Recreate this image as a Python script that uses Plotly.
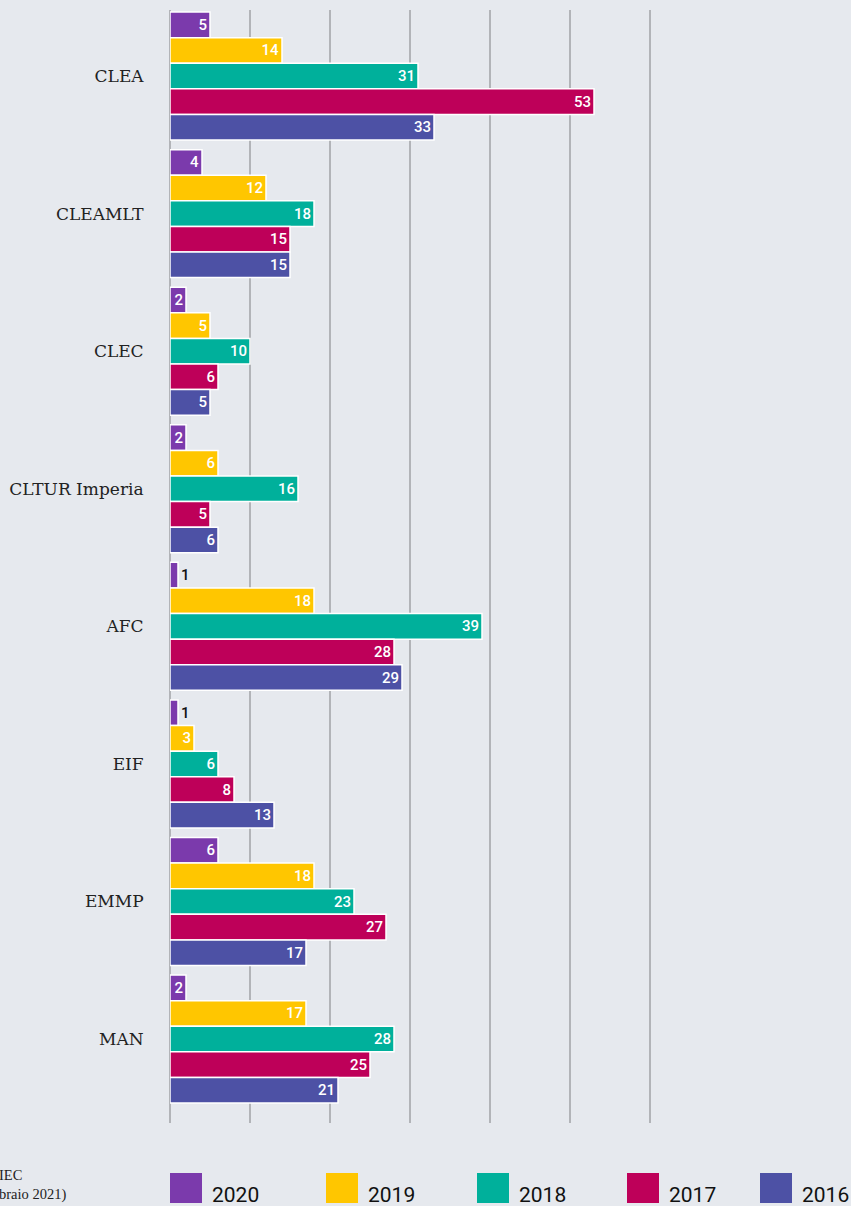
import plotly.graph_objects as go

categories = ["CLEA", "CLEAMLT", "CLEC", "CLTUR Imperia", "AFC", "EIF", "EMMP", "MAN"]
years = ["2020", "2019", "2018", "2017", "2016"]
v2020 = [5, 4, 2, 2, 1, 1, 6, 2]
v2019 = [14, 12, 5, 6, 18, 3, 18, 17]
v2018 = [31, 18, 10, 16, 39, 6, 23, 28]
v2017 = [53, 15, 6, 5, 28, 8, 27, 25]
v2016 = [33, 15, 5, 6, 29, 13, 17, 21]
series = [v2020, v2019, v2018, v2017, v2016]
colors = ["#7b3aac", "#ffc600", "#00b09b", "#be0059", "#4d51a5"]
source_lines = ["IEC", "braio 2021)"]

W, H = 851, 1206
ML, MR, MT, MB = 170, 193, 10, 83
pw, ph = W - ML - MR, H - MT - MB

def px(x):
    return (x - ML) / pw

def py(y):
    return (H - MB - y) / ph

fig = go.Figure()
for name, vals, col in zip(years, series, colors):
    pos = ["outside" if v < 2 else "inside" for v in vals]
    fig.add_trace(go.Bar(
        y=categories, x=vals, name=name, orientation="h",
        marker=dict(color=col, line=dict(color="white", width=1.5)),
        text=[str(v) for v in vals], textposition=pos,
        insidetextanchor="end",
        insidetextfont=dict(color="white", size=15, family="Roboto", weight=500),
        outsidetextfont=dict(color="#111", size=15, family="Roboto", weight=500),
        constraintext="none", cliponaxis=False, showlegend=False,
    ))

shapes = []
annotations = []
leg_x = [170, 326, 477, 627, 760]
for lx, name, col in zip(leg_x, years, colors):
    shapes.append(dict(type="rect", xref="paper", yref="paper",
                       x0=px(lx), x1=px(lx + 32), y0=py(1203), y1=py(1173),
                       fillcolor=col, line=dict(width=0)))
    annotations.append(dict(xref="paper", yref="paper", x=px(lx + 40), y=py(1195),
                            text=name, showarrow=False, xanchor="left", yanchor="middle",
                            font=dict(size=21, color="#111", family="Liberation Sans Narrow, Roboto")))
annotations.append(dict(xref="paper", yref="paper", x=px(-3), y=py(1185),
                        text="<br>".join(source_lines), showarrow=False, xanchor="left",
                        yanchor="middle", align="left",
                        font=dict(size=14.5, color="#222", family="Liberation Serif, DejaVu Serif")))

fig.update_layout(
    width=W, height=H,
    margin=dict(l=ML, r=MR, t=MT, b=MB),
    paper_bgcolor="#e6e9ee", plot_bgcolor="#e6e9ee",
    barmode="group", bargap=0.07, bargroupgap=0,
    shapes=shapes, annotations=annotations,
    xaxis=dict(range=[0, 61], tickvals=[0, 10, 20, 30, 40, 50, 60], showticklabels=False,
               showgrid=True, gridcolor="#b2b4b8", gridwidth=1.5, zeroline=True,
               zerolinecolor="#b2b4b8", zerolinewidth=1.5, fixedrange=True),
    yaxis=dict(range=[7.61, -0.48], showgrid=False, ticks="outside", ticklen=22,
               tickcolor="rgba(0,0,0,0)",
               tickfont=dict(size=17, color="#222", family="DejaVu Serif, Liberation Serif")),
)
fig.write_html("out.html", config={"displayModeBar": False},
               post_script="document.body.style.margin='0';document.body.style.overflow='hidden';")
